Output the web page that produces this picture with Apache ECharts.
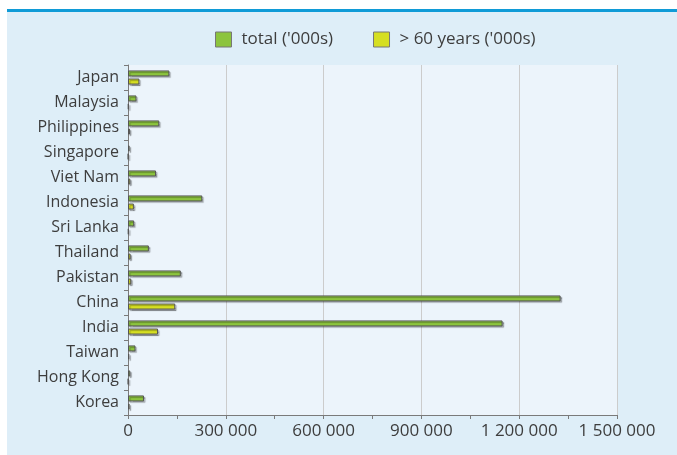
<!DOCTYPE html>
<html>
<head>
<meta charset="utf-8">
<script src="https://cdn.jsdelivr.net/npm/echarts@6/dist/echarts.min.js"></script>
<style>
  html, body { margin: 0; padding: 0; background: #ffffff; }
  #chart { width: 677px; height: 455px; }
</style>
</head>
<body>
<div id="chart"></div>
<script>
// Population by country, thousands (top to bottom)
const countries = ['Japan', 'Malaysia', 'Philippines', 'Singapore', 'Viet Nam', 'Indonesia',
  'Sri Lanka', 'Thailand', 'Pakistan', 'China', 'India', 'Taiwan', 'Hong Kong', 'Korea'];
const totalPop = [127000, 26000, 96000, 5000, 86000, 228000, 19000, 64000, 162000, 1327000, 1149000, 23000, 7000, 49000];
const over60Pop = [35000, 2000, 6000, 1000, 7000, 18000, 2000, 8000, 10000, 145000, 92000, 4000, 1000, 5000];
const xTicks = [0, 300000, 600000, 900000, 1200000, 1500000];

const seriesNames = ["total ('000s)", "> 60 years ('000s)"];
const fontFamily = '"Open Sans", "Noto Sans", sans-serif';
const textColor = '#3d3d3d';

function fmt(v) {
  return String(v).replace(/\B(?=(\d{3})+(?!\d))/g, ' ');
}

const chart = echarts.init(document.getElementById('chart'), null, { renderer: 'canvas' });

const barStyle = (color) => ({
  color: color,
  borderColor: '#555555',
  borderWidth: 1,
  shadowColor: 'rgba(0,0,0,0.28)',
  shadowOffsetX: 1.5,
  shadowOffsetY: 1.5,
  shadowBlur: 1
});

chart.setOption({
  animation: false,
  backgroundColor: '#ffffff',
  graphic: [
    { type: 'rect', z: -10, shape: { x: 7, y: 11, width: 670, height: 444 }, style: { fill: '#deeef8' } },
    { type: 'rect', z: -9, shape: { x: 7, y: 9, width: 670, height: 3 }, style: { fill: '#109bd7' } }
  ],
  legend: {
    data: seriesNames,
    top: 26,
    left: 210,
    itemWidth: 16,
    itemHeight: 15,
    itemGap: 40,
    icon: 'rect',
    itemStyle: { borderColor: '#777777', borderWidth: 1, shadowBlur: 0, shadowOffsetX: 0, shadowOffsetY: 0 },
    textStyle: { fontFamily: fontFamily, fontSize: 17, color: textColor, padding: [0, 0, 0, 5] }
  },
  grid: {
    left: 128, right: 60, top: 65, bottom: 40,
    show: true, backgroundColor: '#ecf4fb', borderWidth: 0
  },
  xAxis: {
    type: 'value',
    min: xTicks[0],
    max: xTicks[xTicks.length - 1],
    interval: xTicks[1] - xTicks[0],
    axisLine: { show: true, lineStyle: { color: '#7a7a7a' } },
    axisTick: { show: true, length: 4, lineStyle: { color: '#7a7a7a' } },
    minorTick: { show: true, splitNumber: 2, length: 4, lineStyle: { color: '#7a7a7a' } },
    splitLine: { show: true, lineStyle: { color: '#cccccc' } },
    axisLabel: {
      fontFamily: fontFamily, fontSize: 17, color: textColor, margin: 8,
      formatter: (v) => fmt(v)
    }
  },
  yAxis: {
    type: 'category',
    data: countries,
    inverse: true,
    axisLine: { show: true, lineStyle: { color: '#7a7a7a' } },
    axisTick: { show: true, length: 4, lineStyle: { color: '#7a7a7a' } },
    splitLine: { show: false },
    axisLabel: { fontFamily: fontFamily, fontSize: 16, color: textColor, margin: 9 }
  },
  series: [
    {
      name: seriesNames[0], type: 'bar', data: totalPop,
      barWidth: 6, barGap: '35%',
      itemStyle: barStyle('#8cc43e')
    },
    {
      name: seriesNames[1], type: 'bar', data: over60Pop,
      barWidth: 6,
      itemStyle: barStyle('#d6df22')
    }
  ]
});
</script>
</body>
</html>
